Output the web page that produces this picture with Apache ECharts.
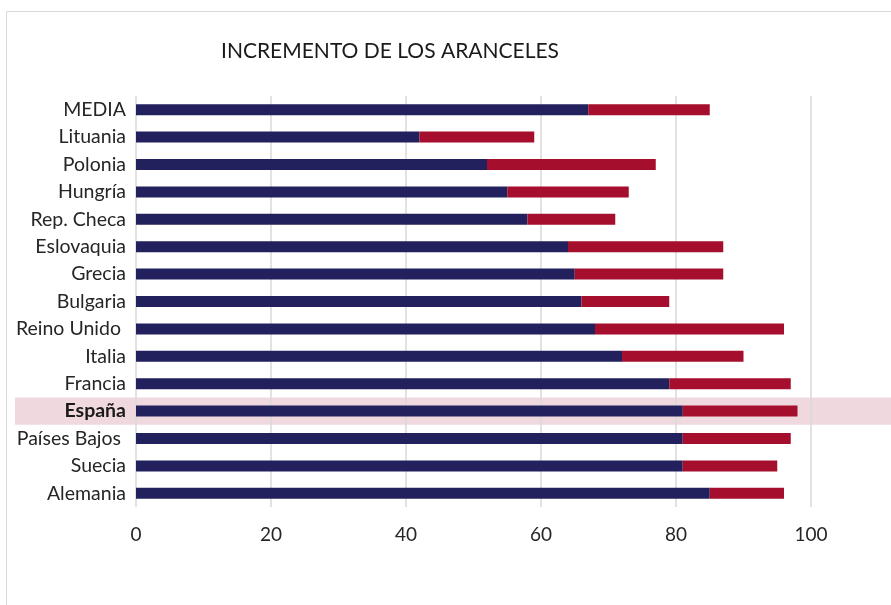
<!DOCTYPE html>
<html><head><meta charset="utf-8">
<script src="https://cdn.jsdelivr.net/npm/echarts@6/dist/echarts.min.js"></script>
<style>html,body{margin:0;padding:0;background:#fff}#c{width:891px;height:605px}</style>
</head><body><div id="c"></div>
<script>
const categories = ['MEDIA','Lituania','Polonia','Hungría','Rep. Checa','Eslovaquia','Grecia','Bulgaria','Reino Unido ','Italia','Francia','España','Países Bajos ','Suecia','Alemania'];
const baseValues = [67,42,52,55,58,64,65,66,68,72,79,81,81,81,85];
const incrementValues = [18,17,25,18,13,23,22,13,28,18,18,17,16,14,11];
const highlight = 'España';
const xTicks = [0,20,40,60,80,100];

const chart = echarts.init(document.getElementById('c'), null, {renderer:'canvas'});
const FONT = 'Lato';
chart.setOption({
  animation:false,
  backgroundColor:'#fff',
  title:{text:'INCREMENTO DE LOS ARANCELES', left:216, top:36,
    textStyle:{fontFamily:FONT, fontWeight:'normal', fontSize:21, color:'#1a1a1a'}},
  grid:{left:136, top:96, width:675, height:411, containLabel:false},
  xAxis:{type:'value', min:xTicks[0], max:xTicks[xTicks.length-1], interval:20,
    axisLine:{show:false}, axisTick:{show:false},
    splitLine:{lineStyle:{color:'#d9d9d9', width:1.5}},
    axisLabel:{fontFamily:FONT, fontSize:19, color:'#262626', margin:18}},
  yAxis:{type:'category', data:categories, inverse:true,
    axisLine:{show:false}, axisTick:{show:false},
    axisLabel:{fontFamily:FONT, fontSize:19.5, color:'#262626', margin:10,
      formatter:v => v===highlight ? '{b|'+v+'}' : v,
      rich:{b:{fontFamily:FONT, fontSize:19.5, fontWeight:'bold', color:'#1a1a1a'}}}},
  series:[
    {type:'bar', stack:'t', data:baseValues, barWidth:11, itemStyle:{color:'#22205d'}},
    {type:'bar', stack:'t', data:incrementValues, barWidth:11, itemStyle:{color:'#a50e2d'}}
  ]
});
const yc = chart.convertToPixel({yAxisIndex:0}, highlight);
const band = (chart.convertToPixel({yAxisIndex:0}, categories[1]) - chart.convertToPixel({yAxisIndex:0}, categories[0]));
chart.setOption({graphic:[
  {type:'rect', z:-10, silent:true, shape:{x:15, y:yc-band/2, width:900, height:band}, style:{fill:'#f0d9de'}},
  {type:'rect', z:-20, silent:true, shape:{x:6.5, y:11.5, width:1000, height:700}, style:{fill:'none', stroke:'#d9d9d9', lineWidth:1}}
]});
</script></body></html>
